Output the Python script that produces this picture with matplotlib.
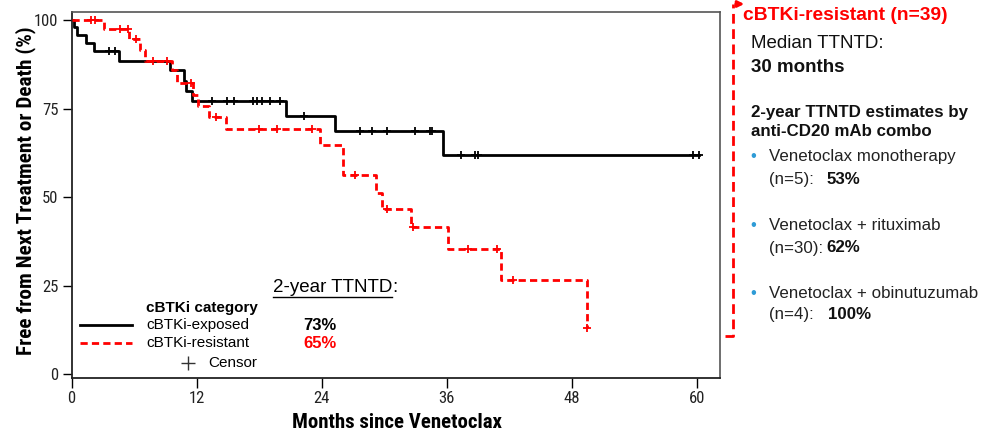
import numpy as np
import matplotlib
matplotlib.use('Agg')
import matplotlib.pyplot as plt
from matplotlib.lines import Line2D
from matplotlib import font_manager as fm

# ---------------- data ----------------
month_ticks = [0, 12, 24, 36, 48, 60]
pct_ticks = [0, 25, 50, 75, 100]

exposed_label = 'cBTKi-exposed'
exposed_months = [0, 0.2, 0.5, 1.4, 2.2, 4.6, 9.4, 10.8, 11.0, 11.6, 20.6, 25.3, 35.6]
exposed_surv = [100, 98.0, 95.8, 93.6, 91.2, 88.5, 85.9, 82.9, 80.1, 77.2, 73.0, 68.8, 62.0]
exposed_end = 60.2
exposed_censor = [3.6, 4.2, 13.5, 14.9, 15.6, 17.4, 17.8, 18.3, 19.0, 20.0, 22.3,
                  27.7, 28.8, 30.3, 32.9, 34.4, 34.6, 37.4, 38.7, 39.0, 59.6, 60.2]

resistant_label = 'cBTKi-resistant'
resistant_months = [0, 3.1, 5.5, 6.6, 7.05, 9.6, 10.1, 11.7, 12.1, 13.2, 14.8, 23.8,
                    26.0, 29.2, 29.8, 32.6, 36.1, 41.2, 49.4]
resistant_surv = [100, 97.4, 94.6, 91.5, 88.5, 85.9, 82.2, 78.9, 75.8, 72.8, 69.2, 64.8,
                  56.3, 51.2, 46.7, 41.5, 35.4, 26.8, 13.0]
resistant_end = 49.4
resistant_censor = [1.9, 2.3, 4.65, 5.45, 6.2, 7.8, 9.2, 11.5, 13.9, 18.0, 19.7, 23.1,
                    27.2, 30.3, 32.8, 38.0, 40.8, 42.3, 49.4]

two_year = ['73%', '65%']

panel_title = 'cBTKi-resistant (n=39)'
median_lines = ['Median TTNTD:', '30 months']
estimate_header = ['2-year TTNTD estimates by', 'anti-CD20 mAb combo']
combo_names = ['Venetoclax monotherapy', 'Venetoclax + rituximab', 'Venetoclax + obinutuzumab']
combo_n = ['(n=5):', '(n=30):', '(n=4):']
combo_pct = ['53%', '62%', '100%']

# ---------------- style ----------------
W, H = 981, 434
SANS = ['Liberation Sans', 'DejaVu Sans']
RED = '#ff0000'
plt.rcParams['font.family'] = SANS

NARROW = None
for cand in ['Liberation Sans Narrow', 'Arial Narrow', 'Roboto Condensed']:
    try:
        fm.findfont(fm.FontProperties(family=cand), fallback_to_default=False)
        NARROW = [cand] + SANS
        break
    except Exception:
        pass
if NARROW is None:
    NARROW = SANS
    XL, YL, TL = 13.0, 13.0, 10.5
else:
    XL, YL, TL = 15.0, 15.3, 12.0


def P(x, y):
    return x / W, 1 - y / H


fig = plt.figure(figsize=(W / 100, H / 100), dpi=100)
ax = fig.add_axes([71.5 / W, 1 - 378 / H, (720 - 71.5) / W, (378 - 12) / H])


def km(ax, months, surv, end, censor, **kw):
    t = np.array(months + [end], dtype=float)
    s = np.array(surv + [surv[-1]], dtype=float)
    line, = ax.step(t, s, where='post', **kw)
    ct = np.array(censor, dtype=float)
    idx = np.searchsorted(np.array(months, dtype=float), ct, side='right') - 1
    cs = np.array(surv, dtype=float)[idx]
    ax.plot(ct, cs, linestyle='none', marker='+', markersize=5.5,
            markeredgewidth=1.3, color=kw.get('color'), zorder=kw.get('zorder', 2) + 0.1)
    return line


km(ax, exposed_months, exposed_surv, exposed_end, exposed_censor,
   color='black', lw=2.0, zorder=2)
km(ax, resistant_months, resistant_surv, resistant_end, resistant_censor,
   color=RED, lw=2.0, dashes=(2.6, 1.5), zorder=3)

ax.set_xlim(0, 62.2)
ax.set_ylim(-1, 102.3)
ax.set_xticks(month_ticks)
ax.set_yticks(pct_ticks)
ax.tick_params(axis='y', direction='out', length=6.5, width=1, labelsize=TL, pad=3)
ax.tick_params(axis='x', direction='out', length=7.5, width=1, labelsize=TL, pad=2)
for lab in ax.get_xticklabels() + ax.get_yticklabels():
    lab.set_family(NARROW)
    lab.set_color('#222222')
for side in ['left', 'bottom']:
    ax.spines[side].set_linewidth(1.3)
    ax.spines[side].set_color('#222222')
for side in ['top', 'right']:
    ax.spines[side].set_linewidth(1.2)
    ax.spines[side].set_color('#555555')

# axis labels
fig.text(*P(397, 423), 'Months since Venetoclax', family=NARROW, fontsize=XL,
         fontweight='bold', ha='center', va='center')
fig.text(*P(26, 191), 'Free from Next Treatment or Death (%)', family=NARROW, fontsize=YL,
         fontweight='bold', ha='center', va='center', rotation=90)

# legend (manual)
fig.text(*P(146, 308), 'cBTKi category', fontsize=11, fontweight='bold', va='center')
fig.text(*P(146, 325), exposed_label, fontsize=11, va='center')
fig.text(*P(146, 343), resistant_label, fontsize=11, va='center')
x0, y0 = P(80, 325)
x1, _ = P(132, 325)
fig.add_artist(Line2D([x0, x1], [y0, y0], color='black', lw=2.0, transform=fig.transFigure))
x0, y0 = P(80, 343)
fig.add_artist(Line2D([x0, x1], [y0, y0], color=RED, lw=2.0, dashes=(2.6, 1.5),
                      transform=fig.transFigure))
xc, yc = P(188, 363)
fig.add_artist(Line2D([xc], [yc], marker='+', markersize=10, markeredgewidth=1.0,
                      color='#333333', linestyle='none', transform=fig.transFigure))
fig.text(*P(208, 363), 'Censor', fontsize=11, va='center')

# 2-year TTNTD
t = fig.text(*P(273, 288), '2-year TTNTD', fontsize=13.5, va='center', ha='left')
fig.canvas.draw()
bb = t.get_window_extent()
fig.text(bb.x1 / W, 1 - 288 / H, ':', fontsize=13.5, va='center', ha='left')
uy = 1 - 297 / H
fig.add_artist(Line2D([bb.x0 / W, bb.x1 / W], [uy, uy], color='black', lw=1.0,
                      transform=fig.transFigure))
fig.text(*P(303, 325), two_year[0], fontsize=12, fontweight='bold', va='center', color='black')
fig.text(*P(303, 343), two_year[1], fontsize=12, fontweight='bold', va='center', color=RED)

# right panel bracket
bx0, by0 = P(725, 336)
bx1, by1 = P(733, 4)
fig.add_artist(Line2D([bx0, bx1, bx1], [by0, by0, by1], color=RED, lw=2.0,
                      dashes=(3.5, 2.0), transform=fig.transFigure))
fig.add_artist(matplotlib.patches.FancyArrowPatch(P(733, 4), P(747, 4),
               arrowstyle='-|>', mutation_scale=9, color=RED, lw=2.0,
               transform=fig.transFigure))

# right panel text
fig.text(*P(743, 15), panel_title, fontsize=13.9, fontweight='bold', color=RED, va='center')
fig.text(*P(751, 43.5), median_lines[0], fontsize=13.5, va='center', color='#111111')
fig.text(*P(751, 67), median_lines[1], fontsize=13.5, fontweight='bold', va='center',
         color='#111111')
fig.text(*P(751, 113), estimate_header[0], fontsize=12.2, fontweight='bold', va='center',
         color='#111111')
fig.text(*P(751, 132), estimate_header[1], fontsize=12.2, fontweight='bold', va='center',
         color='#111111')

item_y = [156, 226, 293.5]
n_y = [179, 248, 314.5]
pct_x = [827, 826, 828]
for i in range(3):
    fig.text(*P(753, item_y[i]), '\u2022', fontsize=12, color='#2E9BD6', va='center',
             ha='center')
    fig.text(*P(769, item_y[i]), combo_names[i], fontsize=12.2, va='center', color='#222222')
    fig.text(*P(769, n_y[i]), combo_n[i], fontsize=12.2, va='center', color='#222222')
    fig.text(*P(pct_x[i], n_y[i]), combo_pct[i], fontsize=12.2, fontweight='bold',
             va='center', color='#111111')

fig.savefig('out.png', dpi=100)
